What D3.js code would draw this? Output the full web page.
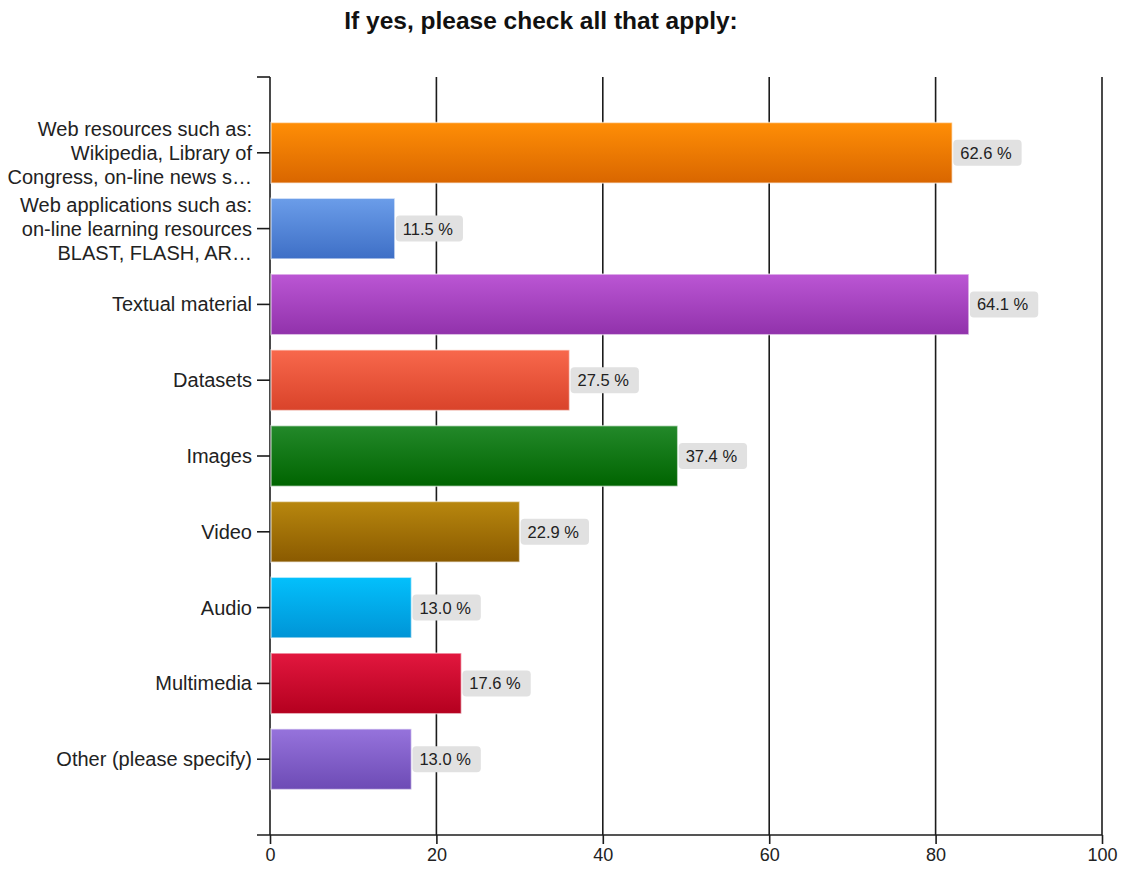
<!DOCTYPE html>
<html>
<head>
<meta charset="utf-8">
<script src="https://cdn.jsdelivr.net/npm/d3@7"></script>
<style>
  html, body { margin: 0; padding: 0; background: #fff; }
  svg { display: block; font-family: "Liberation Sans", Arial, sans-serif; }
</style>
</head>
<body>
<svg id="chart" width="1127" height="869"></svg>
<script>
// Survey answers: number of respondents choosing each option
const categories = [
  ["Web resources such as:", "Wikipedia, Library of", "Congress, on-line news s\u2026"],
  ["Web applications such as:", "on-line learning resources", "BLAST, FLASH, AR\u2026"],
  ["Textual material"],
  ["Datasets"],
  ["Images"],
  ["Video"],
  ["Audio"],
  ["Multimedia"],
  ["Other (please specify)"]
];
const counts = [82, 15, 84, 36, 49, 30, 17, 23, 17];
const respondents = 131;
const xTicks = [0, 20, 40, 60, 80, 100];
const colorsTop    = ["#ff8e06", "#6b9de9", "#bb56d4", "#f8684c", "#23892a", "#b8870e", "#03c0fc", "#e2173e", "#9673dc"];
const colorsBottom = ["#d96600", "#3e6fc6", "#9132ab", "#d9432a", "#006400", "#8a5a00", "#0094d6", "#b4001f", "#6d4bb5"];

const svg = d3.select("#chart");
const plotLeft = 270, plotRight = 1102, plotTop = 77, plotBottom = 835;
const ink = "#1c1c1c";

const x = d3.scaleLinear().domain([0, 100]).range([plotLeft, plotRight]);
const y = d3.scaleBand().domain(d3.range(categories.length)).range([plotTop, plotBottom])
  .paddingInner(0.2).paddingOuter(0.6);

// vertical gradients, lighter at the top of each bar
const defs = svg.append("defs");
counts.forEach((c, i) => {
  const g = defs.append("linearGradient").attr("id", "grad" + i)
    .attr("x1", 0).attr("y1", 0).attr("x2", 0).attr("y2", 1);
  g.append("stop").attr("offset", "0%").attr("stop-color", colorsTop[i]);
  g.append("stop").attr("offset", "100%").attr("stop-color", colorsBottom[i]);
});

// title
svg.append("text")
  .attr("x", 541).attr("y", 29)
  .attr("text-anchor", "middle")
  .attr("font-size", 24.5).attr("font-weight", "bold").attr("fill", "#111")
  .text("If yes, please check all that apply:");

// vertical grid lines
svg.append("g").selectAll("line").data(xTicks.slice(1)).join("line")
  .attr("x1", d => x(d)).attr("x2", d => x(d))
  .attr("y1", plotTop).attr("y2", plotBottom)
  .attr("stroke", ink).attr("stroke-width", 1.6);

// bottom axis
const xAxis = d3.axisBottom(x).tickValues(xTicks).tickSize(9).tickPadding(4).tickSizeOuter(0);
const gx = svg.append("g").attr("transform", `translate(0,${plotBottom})`).call(xAxis);
gx.select(".domain").remove();
gx.selectAll(".tick line").attr("stroke", ink).attr("stroke-width", 1.6);
gx.selectAll(".tick text").attr("font-size", 18).attr("fill", "#222")
  .attr("font-family", "Liberation Sans, Arial, sans-serif");
svg.append("line").attr("x1", 257).attr("x2", plotRight).attr("y1", plotBottom).attr("y2", plotBottom)
  .attr("stroke", ink).attr("stroke-width", 1.6);

// left axis with a tick at each category
svg.append("line").attr("x1", plotLeft).attr("x2", plotLeft).attr("y1", plotTop).attr("y2", plotBottom)
  .attr("stroke", ink).attr("stroke-width", 1.6);
svg.append("line").attr("x1", 257).attr("x2", plotLeft).attr("y1", plotTop).attr("y2", plotTop)
  .attr("stroke", ink).attr("stroke-width", 1.6);

const rows = svg.append("g").selectAll("g").data(categories).join("g")
  .attr("transform", (d, i) => `translate(0,${y(i) + y.bandwidth() / 2})`);

rows.append("line").attr("x1", 257).attr("x2", plotLeft)
  .attr("stroke", ink).attr("stroke-width", 1.6);

rows.append("text")
  .attr("text-anchor", "end").attr("font-size", 20).attr("fill", "#222")
  .each(function (lines) {
    const t = d3.select(this);
    const lh = 24;
    const y0 = -(lines.length - 1) / 2 * lh + 7;
    lines.forEach((ln, k) => {
      t.append("tspan").attr("x", 252).attr("y", y0 + k * lh).text(ln);
    });
  });

// bars
svg.append("g").selectAll("rect").data(counts).join("rect")
  .attr("x", x(0) + 1)
  .attr("y", (d, i) => y(i))
  .attr("width", d => x(d) - x(0) - 1)
  .attr("height", y.bandwidth())
  .attr("fill", (d, i) => `url(#grad${i})`)
  .attr("stroke", "rgba(255,255,255,0.55)").attr("stroke-width", 1.5);

// percentage labels in rounded boxes
const labels = svg.append("g").selectAll("g").data(counts).join("g")
  .attr("transform", (d, i) => `translate(${x(d) + 1},${y(i) + y.bandwidth() / 2})`);
labels.append("text")
  .attr("x", 7).attr("y", 6)
  .attr("font-size", 16.5).attr("fill", "#222")
  .text(d => (d / respondents * 100).toFixed(1) + " %");
labels.each(function () {
  const g = d3.select(this);
  const w = g.select("text").node().getComputedTextLength();
  g.insert("rect", "text")
    .attr("x", 0).attr("y", -13).attr("width", w + 17).attr("height", 26)
    .attr("rx", 4).attr("fill", "#e1e1e1");
});
</script>
</body>
</html>
